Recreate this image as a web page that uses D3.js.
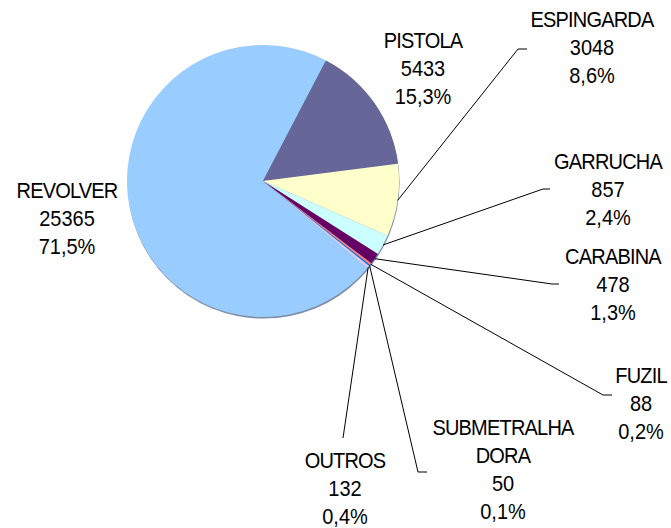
<!DOCTYPE html>
<html>
<head>
<meta charset="utf-8">
<script src="https://cdn.jsdelivr.net/npm/d3@7/dist/d3.min.js"></script>
<style>
  body { margin: 0; background: #fff; }
  svg text { font-family: "Liberation Sans", Arial, sans-serif; font-size: 20px; fill: #000; }
</style>
</head>
<body>
<svg id="svg"></svg>
<script>
const categories = ["REVOLVER", "PISTOLA", "ESPINGARDA", "GARRUCHA", "CARABINA", "FUZIL", "SUBMETRALHADORA", "OUTROS"];
const nameLines = [["REVOLVER"], ["PISTOLA"], ["ESPINGARDA"], ["GARRUCHA"], ["CARABINA"], ["FUZIL"], ["SUBMETRALHA", "DORA"], ["OUTROS"]];
const counts = [25365, 5433, 3048, 857, 478, 88, 50, 132];
const percents = ["71,5%", "15,3%", "8,6%", "2,4%", "1,3%", "0,2%", "0,1%", "0,4%"];
const colors = ["#99ccff", "#666699", "#ffffcc", "#ccffff", "#660066", "#ff8080", "#0066cc", "#ccccff"];

// manual label placement (text centre x, first baseline y) and leader elbows
const labelAt = [[67, 197.5], [423, 47.5], [592, 27], [608, 168.5], [613, 263.5], [641, 382.5], [503, 434.5], [345, 467.5]];
const leaderAt = [null, null, [[518, 49], [527, 49]], [[543, 189], [550, 189]], [[552, 284], [559, 284]],
                  [[603, 395], [612, 395]], [[418, 472], [427, 472]], [[343, 438]]];

const width = 671, height = 528;
const cx = 263, cy = 181, r = 136;
const stretch = 1.07, lineGap = 28.2;

const svg = d3.select("#svg")
              .attr("width", width)
              .attr("height", height);

const start = -230 * Math.PI / 180;
const pie = d3.pie()
              .sort(null)
              .value(d => d)
              .startAngle(start)
              .endAngle(start + 2 * Math.PI);
const arcs = pie(counts);
const arc = d3.arc().innerRadius(0).outerRadius(r);

const g = svg.append("g")
             .attr("transform", "translate(" + cx + "," + cy + ")");

// soft edge shadow like the original
g.append("circle")
 .attr("cx", 0.6)
 .attr("cy", 1.6)
 .attr("r", r)
 .style("fill", "#7f8ea8");

g.selectAll("path.slice")
 .data(arcs)
 .enter()
 .append("path")
 .attr("class", "slice")
 .attr("d", arc)
 .style("fill", (d, i) => colors[i]);

// leader lines
const line = d3.line();
arcs.forEach(function(d, i) {
  if (!leaderAt[i]) return;
  const mid = (d.startAngle + d.endAngle) / 2;
  const p0 = [cx + r * Math.sin(mid), cy - r * Math.cos(mid)];
  svg.append("path")
     .attr("d", line([p0, ...leaderAt[i]]))
     .style("fill", "none")
     .style("stroke", "#000")
     .style("stroke-width", 1);
});

// labels
categories.forEach(function(c, i) {
  const t = svg.append("text")
               .attr("text-anchor", "middle")
               .attr("transform", "translate(" + labelAt[i][0] + "," + labelAt[i][1] + ") scale(1," + stretch + ")");
  const rows = nameLines[i].concat([String(counts[i]), percents[i]]);
  rows.forEach(function(s, j) {
    t.append("tspan")
     .attr("x", 0)
     .attr("dy", j === 0 ? 0 : lineGap / stretch)
     .style("letter-spacing", j < nameLines[i].length ? "-0.8px" : "0px")
     .text(s);
  });
});
</script>
</body>
</html>
